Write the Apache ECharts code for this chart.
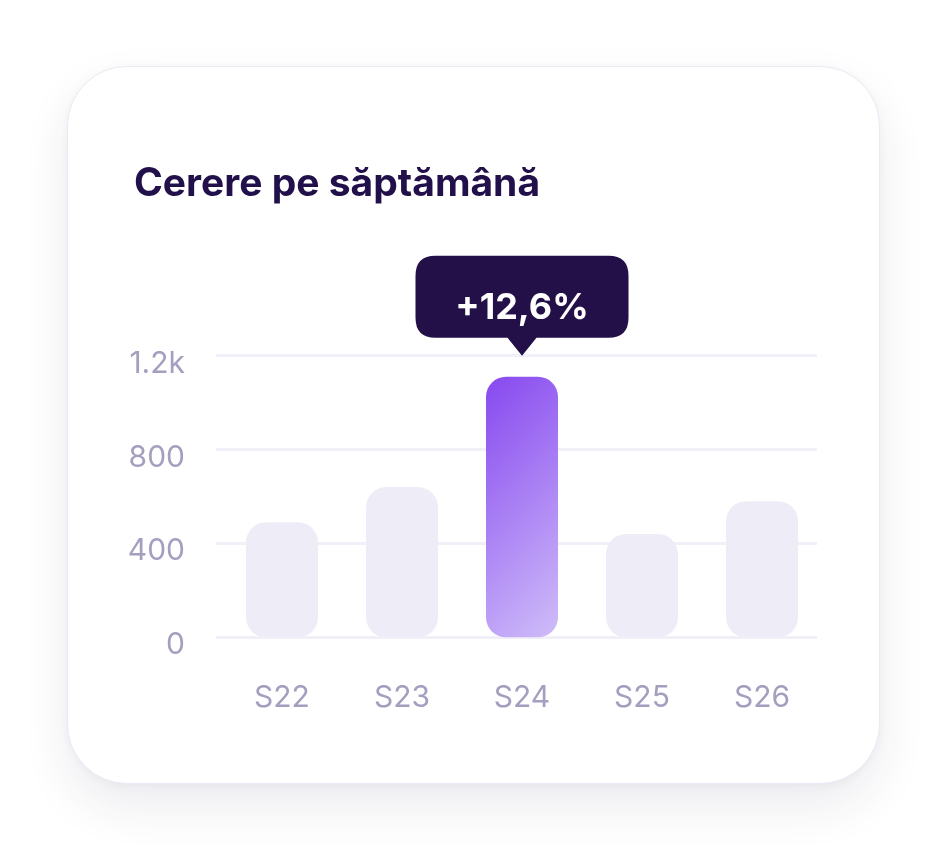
<!DOCTYPE html>
<html>
<head>
<meta charset="utf-8">
<script src="https://cdn.jsdelivr.net/npm/echarts@6/dist/echarts.min.js"></script>
<style>
  html, body { margin: 0; padding: 0; background: #ffffff; width: 948px; height: 852px; overflow: hidden; }
  #card { position: absolute; left: 67px; top: 66px; width: 813px; height: 718px; border-radius: 60px;
          background: #ffffff; border: 1.5px solid #ebe9f4; box-sizing: border-box;
          box-shadow: 0 22px 48px rgba(40, 30, 80, 0.09), 0 2px 8px rgba(40,30,80,0.04); }
  #chart { position: absolute; left: 0; top: 0; width: 948px; height: 852px; }
</style>
</head>
<body>
<div id="card"></div>
<div id="chart"></div>
<script>
const titleText = 'Cerere pe săptămână';
const categories = ['S22', 'S23', 'S24', 'S25', 'S26'];
const demandValues = [490, 640, 1110, 440, 580];
const yTickValues = [0, 400, 800, 1200];
const yTickLabels = ['0', '400', '800', '1.2k'];
const highlightIndex = 2;
const highlightLabel = '+12,6%';

const FONT = 'Inter, "Noto Sans", sans-serif';
const labelColor = '#a39fbf';
const dark = '#22104a';

const chart = echarts.init(document.getElementById('chart'), null, { renderer: 'canvas' });

const calloutPath = 'path://M20,0 H193 Q213,0 213,20 V62 Q213,82 193,82 H121 L106.5,100 L92,82 H20 Q0,82 0,62 V20 Q0,0 20,0 Z';

const barData = demandValues.map((v, i) => {
  if (i === highlightIndex) {
    return {
      value: v,
      itemStyle: {
        color: new echarts.graphic.LinearGradient(0, 0, 3.6, 1, [
          { offset: 0, color: '#8748ef' },
          { offset: 0.64, color: '#cfbdf9' },
          { offset: 1, color: '#cfbdf9' }
        ])
      }
    };
  }
  return { value: v };
});

chart.setOption({
  backgroundColor: 'transparent',
  animation: false,
  title: {
    text: titleText,
    left: 129,
    top: 160,
    textStyle: { fontFamily: FONT, fontSize: 39, fontWeight: 'bold', color: dark }
  },
  grid: [
    { left: 216, right: 131, top: 355.7, bottom: 214.7 },
    { left: 222, width: 600, top: 355.7, bottom: 214.7 }
  ],
  xAxis: [
    { type: 'category', gridIndex: 0, data: categories, show: false },
    {
      type: 'category', gridIndex: 1, data: categories,
      axisLine: { show: false }, axisTick: { show: false },
      axisLabel: { color: labelColor, fontFamily: FONT, fontSize: 30, margin: 46 }
    }
  ],
  yAxis: [
    {
      type: 'value', gridIndex: 0, min: 0, max: 1200, interval: 400,
      axisLine: { show: false }, axisTick: { show: false },
      splitLine: { lineStyle: { color: '#f1eff8', width: 3 } },
      axisLabel: {
        color: labelColor, fontFamily: FONT, fontSize: 30, margin: 31,
        formatter: (v) => { const i = yTickValues.indexOf(v); return i >= 0 ? '{v|' + yTickLabels[i] + '}' : ''; },
        rich: { v: { color: labelColor, fontFamily: FONT, fontSize: 30, padding: [16, 0, 0, 0] } }
      }
    },
    { type: 'value', gridIndex: 1, min: 0, max: 1200, interval: 400, show: false }
  ],
  series: [{
    type: 'bar',
    xAxisIndex: 1,
    yAxisIndex: 1,
    barWidth: 72,
    data: barData,
    itemStyle: { color: '#eeecf6', borderRadius: 20 },
    silent: true,
    markPoint: {
      silent: true,
      symbol: calloutPath,
      symbolSize: [213, 100],
      symbolOffset: [0, -71],
      itemStyle: { color: '#241049' },
      label: {
        show: true, position: 'inside', offset: [0, 2],
        formatter: highlightLabel,
        color: '#ffffff', fontFamily: FONT, fontSize: 36, fontWeight: 'bold'
      },
      data: [{ coord: [categories[highlightIndex], demandValues[highlightIndex]] }]
    }
  }]
});
</script>
</body>
</html>
